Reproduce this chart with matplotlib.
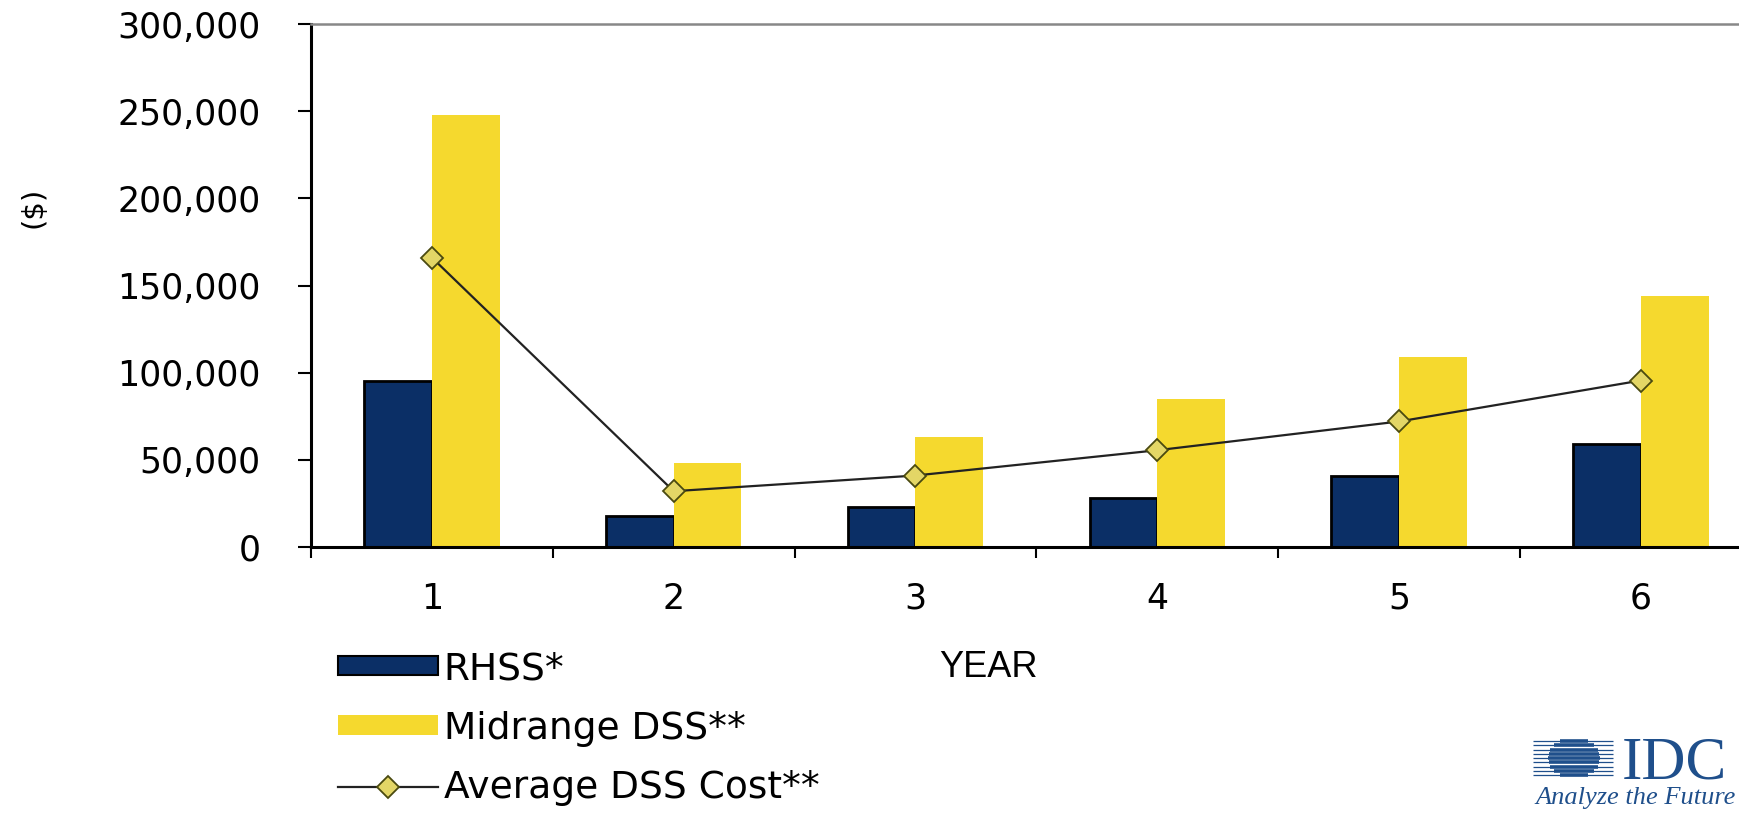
import numpy as np
import matplotlib
matplotlib.use("Agg")
import matplotlib.pyplot as plt
from matplotlib.lines import Line2D
from matplotlib.patches import Patch

# data
years = [1, 2, 3, 4, 5, 6]
year_labels = ["1", "2", "3", "4", "5", "6"]
rhss = [95500, 18000, 23000, 28000, 41000, 59000]
midrange_dss = [248000, 48000, 63000, 85000, 109000, 144000]
avg_dss_cost = [166000, 32000, 41000, 55500, 72000, 95500]
y_ticks = [0, 50000, 100000, 150000, 200000, 250000, 300000]

NAVY = "#0b2f66"
YELLOW = "#f5d92e"
DIAMOND = "#e3d666"
LOGO = "#1f4f8b"

W, H = 1740, 813
fig = plt.figure(figsize=(W / 100, H / 100), dpi=100)
ax = fig.add_axes([311 / W, 1 - 547 / H, (W - 311) / W, (547 - 24) / H])

x = np.array(years)
bw = 0.28
ax.bar(x - bw / 2, rhss, width=bw, color=NAVY, edgecolor="black", linewidth=2.0, zorder=2)
ax.bar(x + bw / 2, midrange_dss, width=bw, color=YELLOW, edgecolor="none", zorder=2)
ax.plot(x, avg_dss_cost, color="#222222", linewidth=1.6, marker="D", markersize=11,
        markerfacecolor=DIAMOND, markeredgecolor="#4a4a10", markeredgewidth=1.3, zorder=3)

ax.set_xlim(0.5, 6.41)
ax.set_ylim(0, 300000)
ax.set_yticks(y_ticks)
ax.set_yticklabels([f"{v:,}" for v in y_ticks])
ax.set_xticks(np.arange(0.5, 6.5, 1.0))
ax.set_xticklabels([])
ax.set_xticks(x, minor=True)
ax.set_xticklabels(year_labels, minor=True)

ax.tick_params(axis="x", which="major", direction="out", length=8, width=1.5, color="black")
ax.tick_params(axis="x", which="minor", length=0, pad=25, labelsize=25)
ax.tick_params(axis="y", direction="out", length=9.5, width=1.5, pad=27, labelsize=25)
for lab in ax.get_xticklabels(minor=True) + ax.get_yticklabels():
    lab.set_family("DejaVu Sans")

ax.spines["left"].set_linewidth(2.2)
ax.spines["bottom"].set_linewidth(2.2)
ax.spines["top"].set_color("#888888")
ax.spines["top"].set_linewidth(1.8)
ax.spines["right"].set_visible(False)

fig.text(34 / W, 1 - 207 / H, "($)", rotation=90, ha="center", va="center",
         fontsize=21, family="DejaVu Sans")

ax.set_xlabel("YEAR", fontsize=26, family="Liberation Sans")
ax.xaxis.set_label_coords((988 - 311) / (W - 311), (547 - 650) / (547 - 24))

handles = [
    Patch(facecolor=NAVY, edgecolor="black", linewidth=1.5),
    Patch(facecolor=YELLOW, edgecolor="none"),
    Line2D([], [], color="#222222", linewidth=1.6, marker="D", markersize=11,
           markerfacecolor=DIAMOND, markeredgecolor="#4a4a10", markeredgewidth=1.3),
]
labels = ["RHSS*", "Midrange DSS**", "Average DSS Cost**"]
fig.legend(handles, labels, loc="upper left", bbox_to_anchor=(338 / W, 1 - 651 / H),
           frameon=False, borderpad=0, borderaxespad=0,
           prop={"family": "DejaVu Sans", "size": 27},
           handlelength=2.67, handleheight=0.43, handletextpad=0.15, labelspacing=0.63)

# IDC logo, bottom right
lax = fig.add_axes([1525 / W, 0, (W - 1525) / W, 85 / H])
lax.set_xlim(1525, W)
lax.set_ylim(H, H - 85)
lax.axis("off")
cx, cy, rx, ry = 1574, 758, 26, 20
stripe_y = np.linspace(741, 775, 9)
lax.hlines(stripe_y, 1533, 1613, color=LOGO, linewidth=0.9)
half = rx * np.sqrt(np.clip(1 - ((stripe_y - cy) / ry) ** 2, 0, 1))
lax.hlines(stripe_y, cx - half, cx + half, color=LOGO, linewidth=2.6)
lax.text(1622, 778, "IDC", color=LOGO, fontsize=44, family="Liberation Serif",
         ha="left", va="baseline")
lax.text(1535, 804, "Analyze the Future", color=LOGO, fontsize=19,
         family="Liberation Serif", style="italic", ha="left", va="baseline")

fig.savefig("out.png", dpi=100)
